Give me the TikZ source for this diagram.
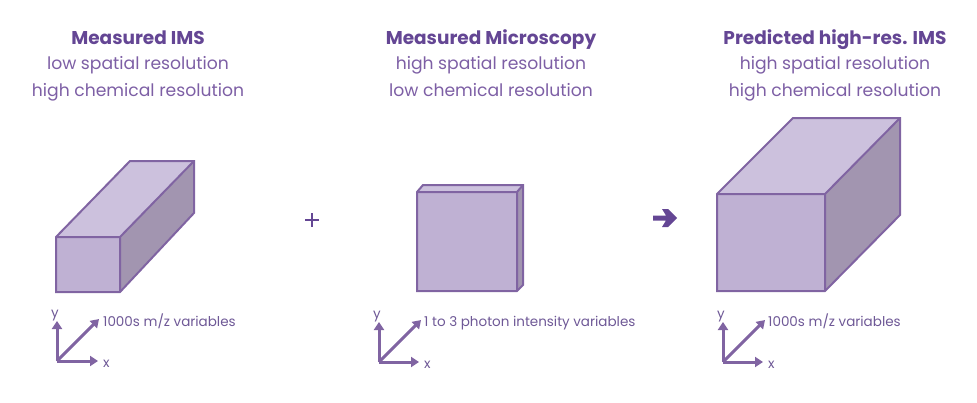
\documentclass[tikz,border=0pt]{standalone}
\usepackage{fontspec}
\setmainfont{Poppins}
\usetikzlibrary{arrows.meta}
\definecolor{titlecol}{RGB}{100,70,148}
\definecolor{textcol}{RGB}{125,95,165}
\definecolor{edgecol}{RGB}{128,100,162}
\definecolor{frontcol}{RGB}{191,177,211}
\definecolor{topcol}{RGB}{204,193,221}
\definecolor{sidecol}{RGB}{162,149,176}
\definecolor{labcol}{RGB}{110,88,150}
\tikzset{
  face/.style={draw=edgecol, line width=2pt, line join=miter},
  titletext/.style={text=titlecol, font=\fontsize{18.5}{20}\selectfont\bfseries, inner sep=0pt, anchor=base},
  subtext/.style={text=textcol, font=\fontsize{17.2}{20}\selectfont, inner sep=0pt, anchor=base},
  axis/.style={draw=edgecol, line width=3pt, -{Triangle[length=8pt,width=10pt]}},
  axlab/.style={text=labcol, font=\fontsize{13.5}{15}\selectfont, inner sep=0pt},
}
\begin{document}
\begin{tikzpicture}[x=1pt,y=-1pt]
\useasboundingbox (0,0) rectangle (977,402);
% titles
\node[titletext] (t1) at (138,44) {Measured IMS};
\node[subtext] (s1a) at (138,69) {low spatial resolution};
\node[subtext] (s1b) at (138,96) {high chemical resolution};
\node[titletext] (t2) at (491,44) {Measured Microscopy};
\node[subtext] (s2a) at (491,69) {high spatial resolution};
\node[subtext] (s2b) at (491,96) {low chemical resolution};
\node[titletext] (t3) at (835,44) {Predicted high-res. IMS};
\node[subtext] (s3a) at (835,69) {high spatial resolution};
\node[subtext] (s3b) at (835,96) {high chemical resolution};
% cube 1
\fill[topcol] (56,237) -- (130,161) -- (194,161) -- (120,237) -- cycle;
\fill[sidecol] (120,237) -- (194,161) -- (194,213) -- (120,292) -- cycle;
\fill[frontcol] (56,237) rectangle (120,292);
\draw[face] (56,237) -- (130,161) -- (194,161) -- (194,213) -- (120,292) -- (56,292) -- cycle;
\draw[face] (56,237) -- (120,237) -- (194,161) (120,237) -- (120,292);
% plus
\coordinate (plus) at (312,220);
\draw[titlecol, line width=2.6pt] (305,220) -- (319,220) (312,213) -- (312,227);
% cube 2
\fill[topcol] (417,192) -- (423,185) -- (523,185) -- (517,192) -- cycle;
\fill[sidecol] (517,192) -- (523,185) -- (523,285) -- (517,291) -- cycle;
\fill[frontcol] (417,192) rectangle (517,291);
\draw[face] (417,192) -- (423,185) -- (523,185) -- (523,285) -- (517,291) -- (417,291) -- cycle;
\draw[face] (417,192) -- (517,192) -- (523,185) (517,192) -- (517,291);
% arrow
\fill[titlecol] (653,215.5) -- (666,215.5) -- (662,209) -- (668,209) -- (677,218) -- (668,227) -- (662,227) -- (666,220.5) -- (653,220.5) -- cycle;
% cube 3
\fill[topcol] (717,194) -- (793,118) -- (900,118) -- (825,194) -- cycle;
\fill[sidecol] (825,194) -- (900,118) -- (900,215) -- (825,291) -- cycle;
\fill[frontcol] (717,194) rectangle (825,291);
\draw[face] (717,194) -- (793,118) -- (900,118) -- (900,215) -- (825,291) -- (717,291) -- cycle;
\draw[face] (717,194) -- (825,194) -- (900,118) (825,194) -- (825,291);
% axes 1
\coordinate (o1) at (57,361);
\coordinate (y1) at (57,321);
\coordinate (x1) at (98,361);
\coordinate (z1) at (99,319);
\draw[axis] (o1) -- (y1);
\draw[axis] (o1) -- (x1);
\draw[axis] (o1) -- (z1);
\node[axlab, anchor=base] (ly1) at (55,317) {y};
\node[axlab, anchor=base west] (lx1) at (103,367) {x};
\node[axlab, anchor=base west] (lz1) at (103,326) {1000s m/z variables};
% axes 2
\coordinate (o2) at (379,362);
\coordinate (y2) at (379,322);
\coordinate (x2) at (419,362);
\coordinate (z2) at (421,320);
\draw[axis] (o2) -- (y2);
\draw[axis] (o2) -- (x2);
\draw[axis] (o2) -- (z2);
\node[axlab, anchor=base] (ly2) at (377,318) {y};
\node[axlab, anchor=base west] (lx2) at (424,368) {x};
\node[axlab, anchor=base west] (lz2) at (424,326) {1 to 3 photon intensity variables};
% axes 3
\coordinate (o3) at (723,362);
\coordinate (y3) at (723,322);
\coordinate (x3) at (763,362);
\coordinate (z3) at (765,320);
\draw[axis] (o3) -- (y3);
\draw[axis] (o3) -- (x3);
\draw[axis] (o3) -- (z3);
\node[axlab, anchor=base] (ly3) at (721,318) {y};
\node[axlab, anchor=base west] (lx3) at (768,368) {x};
\node[axlab, anchor=base west] (lz3) at (768,326) {1000s m/z variables};
\end{tikzpicture}
\end{document}
